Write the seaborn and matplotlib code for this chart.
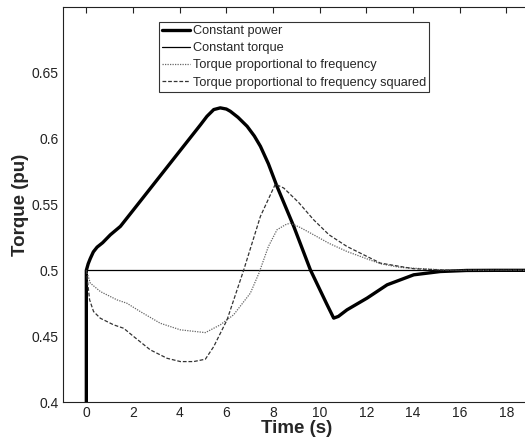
import numpy as np
import pandas as pd
import matplotlib
matplotlib.use("Agg")
import matplotlib.pyplot as plt
import seaborn as sns

# Constant power (thick)
cp_t = [0.0, 0.0, 0.08, 0.17, 0.3, 0.46, 0.7, 1.03, 1.46, 2.0, 3.0, 4.0, 4.89, 5.17, 5.46, 5.74, 6.0, 6.17, 6.5, 6.89, 7.2, 7.46, 7.8, 8.17, 8.89, 9.6, 10.3, 10.6, 10.8, 11.17, 12.03, 12.89, 14.03, 15.17, 16.3, 17.5, 19.0]
cp_y = [0.39, 0.5, 0.505, 0.509, 0.514, 0.5176, 0.521, 0.527, 0.5334, 0.5455, 0.568, 0.5905, 0.6105, 0.617, 0.6221, 0.6234, 0.6225, 0.6208, 0.6162, 0.6094, 0.602, 0.5942, 0.581, 0.5638, 0.5333, 0.5004, 0.4745, 0.4637, 0.465, 0.47, 0.4789, 0.489, 0.4966, 0.4991, 0.4999, 0.5, 0.5]

# Constant torque
ct_t = [0.0, 19.0]
ct_y = [0.5, 0.5]

# Torque proportional to frequency (dotted)
tf_t = [0.0, 0.17, 0.6, 1.31, 1.74, 2.31, 3.17, 4.03, 5.1, 5.74, 6.31, 7.03, 7.4, 7.8, 8.17, 8.53, 8.74, 9.17, 9.74, 10.4, 11.17, 12.6, 13.46, 15.6, 19.0]
tf_y = [0.5, 0.4903, 0.4839, 0.4776, 0.475, 0.4687, 0.4598, 0.4548, 0.4527, 0.4586, 0.4662, 0.4827, 0.498, 0.518, 0.5308, 0.5346, 0.5359, 0.5325, 0.527, 0.5205, 0.5143, 0.505, 0.5022, 0.5, 0.5]

# Torque proportional to frequency squared (dashed)
tf2_t = [0.0, 0.14, 0.31, 0.6, 1.17, 1.6, 2.03, 2.74, 3.46, 4.03, 4.6, 5.1, 5.46, 6.03, 6.74, 7.46, 8.1, 8.46, 9.1, 9.74, 10.4, 11.17, 12.6, 14.03, 15.6, 19.0]
tf2_y = [0.5, 0.4776, 0.4687, 0.4636, 0.4586, 0.456, 0.4497, 0.4396, 0.4332, 0.4307, 0.4307, 0.4325, 0.4421, 0.4624, 0.5, 0.541, 0.5655, 0.5625, 0.5515, 0.5384, 0.527, 0.5181, 0.5055, 0.5012, 0.5, 0.5]

labels = ["Constant power", "Constant torque", "Torque proportional to frequency",
          "Torque proportional to frequency squared"]
x_ticks = [0, 2, 4, 6, 8, 10, 12, 14, 16, 18]
y_ticks = [0.4, 0.45, 0.5, 0.55, 0.6, 0.65]
y_tick_labels = ["0.4", "0.45", "0.5", "0.55", "0.6", "0.65"]

sns.set_style("white")
plt.rcParams['font.family'] = ['Liberation Sans', 'DejaVu Sans']

fig = plt.figure(figsize=(5.25, 4.43), dpi=100)
ax = fig.add_axes([63/525, 41/443, (529.7-63)/525, 395/443])

series = [
    (cp_t, cp_y, dict(color="black", linewidth=2.4, linestyle="-")),
    (ct_t, ct_y, dict(color="black", linewidth=0.9, linestyle="-")),
    (tf_t, tf_y, dict(color="#666666", linewidth=0.9, linestyle=(0, (1, 1)))),
    (tf2_t, tf2_y, dict(color="#333333", linewidth=0.9, linestyle=(0, (3, 1.5)))),
]
for (t, y, st), lab in zip(series, labels):
    df = pd.DataFrame({"t": t, "y": y})
    sns.lineplot(data=df, x="t", y="y", ax=ax, sort=False, estimator=None,
                 label=lab, **st)

ax.set_xlim(-1, 19)
ax.set_ylim(0.4, 0.7)
ax.set_xticks(x_ticks)
ax.set_yticks(y_ticks)
ax.set_yticklabels(y_tick_labels)
ax.tick_params(direction="in", top=True, right=False, length=4, width=0.8,
               labelsize=10, colors="#222222", pad=3)
for s in ax.spines.values():
    s.set_color("#222222")
    s.set_linewidth(0.8)

ax.set_xlabel("Time (s)", fontsize=13.5, fontweight="bold", labelpad=0)
ax.set_ylabel("Torque (pu)", fontsize=13.5, fontweight="bold", labelpad=2)

leg = ax.legend(loc="upper left", bbox_to_anchor=(159/525, 1-22/443),
                bbox_transform=fig.transFigure, borderaxespad=0,
                fontsize=9.2, frameon=True, fancybox=False, edgecolor="black",
                handlelength=2.2, handletextpad=0.2, labelspacing=0.4,
                borderpad=0.25)
leg.get_frame().set_linewidth(0.8)

fig.savefig("out.png", dpi=100)
